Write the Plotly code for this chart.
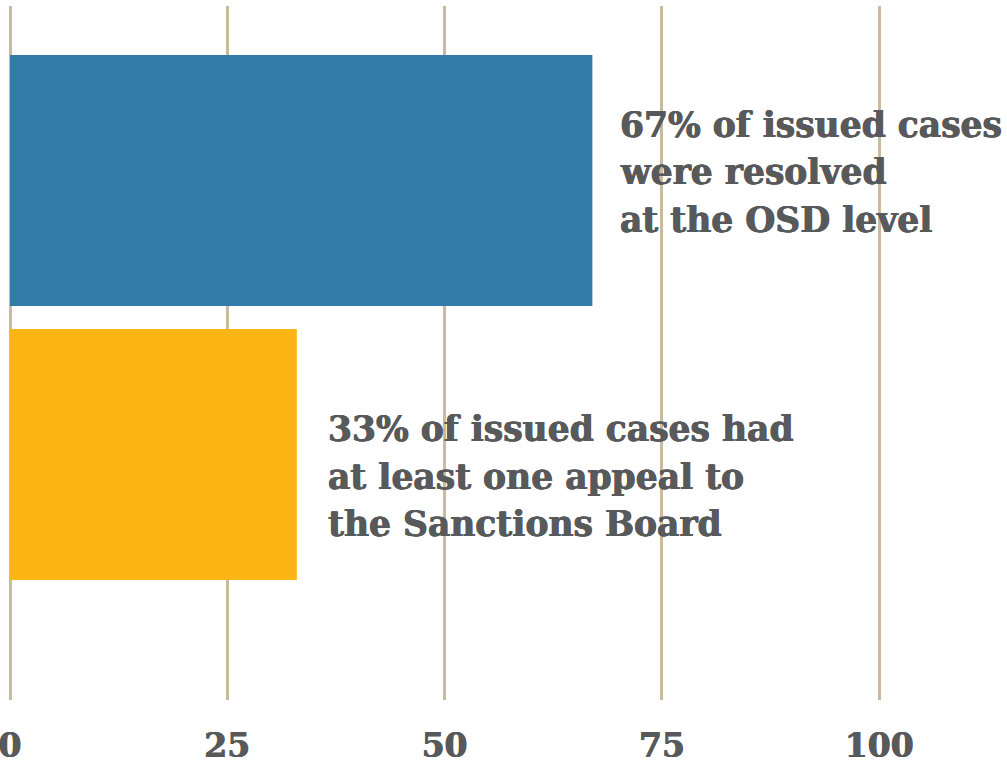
import plotly.graph_objects as go

# ---- data ----
categories = ["Resolved at the OSD level", "Appealed to the Sanctions Board"]
values = [67, 33]
bar_colors = ["#337ba8", "#fdb515"]
label_lines = [
    ["67% of issued cases", "were resolved", "at the OSD level"],
    ["33% of issued cases had", "at least one appeal to", "the Sanctions Board"],
]
tick_vals = [0, 25, 50, 75, 100]
tick_text = ["0", "25", "50", "75", "100"]

# ---- style ----
TEXT_COLOR = "#58595b"
GRID_COLOR = "#c8bb9f"
FONT = "DejaVu Serif"
SHADOW = "0.5px 0 0 #58595b, -0.5px 0 0 #58595b"
label_gap = [3.0, 3.3]          # x-offset (data units) between bar end and label
block_offset = [-0.031, 0.082]  # vertical offset of label block centre
line_step = 0.1734              # vertical spacing between label lines

ypos = list(range(len(categories)))

fig = go.Figure()
fig.add_trace(go.Bar(
    x=values, y=ypos, orientation="h", width=0.916,
    marker=dict(color=bar_colors, line=dict(width=0)),
    hovertext=categories, hoverinfo="text+x",
))

annotations = []
for i, lines in enumerate(label_lines):
    n = len(lines)
    for j, line in enumerate(lines):
        annotations.append(dict(
            x=values[i] + label_gap[i], xref="x", xanchor="left",
            y=ypos[i] + block_offset[i] + (j - (n - 1) / 2) * line_step,
            yref="y", yanchor="middle",
            text="<b>%s</b>" % line, showarrow=False,
            font=dict(family=FONT, size=34.5, color=TEXT_COLOR, shadow=SHADOW),
        ))

fig.update_layout(
    width=1007, height=764,
    margin=dict(l=0, r=0, t=6, b=64, autoexpand=False),
    paper_bgcolor="white", plot_bgcolor="white",
    showlegend=False,
    annotations=annotations,
    xaxis=dict(
        range=[-1.15, 114.7], tickvals=tick_vals, ticktext=["<b>%s</b>" % t for t in tick_text],
        showgrid=True, gridcolor=GRID_COLOR, gridwidth=3,
        zeroline=False, showline=False, automargin=False,
        ticks="outside", ticklen=16, tickcolor="rgba(0,0,0,0)",
        ticklabeloverflow="allow",
        tickfont=dict(family=FONT, size=33, color=TEXT_COLOR, shadow=SHADOW),
        fixedrange=True,
    ),
    yaxis=dict(
        range=[1.896, -0.637], showgrid=False, zeroline=False, automargin=False,
        showticklabels=False, showline=False, fixedrange=True,
    ),
)

fig.write_html(
    "out.html",
    config={"displayModeBar": False},
    post_script="document.body.style.margin='0';document.body.style.overflow='hidden';",
)
